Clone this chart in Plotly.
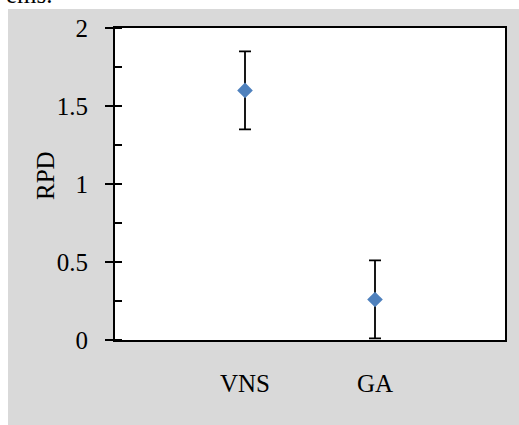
import plotly.graph_objects as go

categories = ["VNS", "GA"]
rpd_values = [1.60, 0.26]
rpd_errors = [0.25, 0.25]
y_tick_vals = [0, 0.5, 1, 1.5, 2]
y_tick_text = ["0", "0.5", "1", "1.5", "2"]

FONT = "Liberation Serif"
FS = 25
W, H = 519, 425
L, R, T, B = 115, 14, 28, 85
pw, ph = W - L - R, H - T - B

def px_x(x):
    return (x - L) / pw

def px_y(y):
    return (H - B - y) / ph

fig = go.Figure()
fig.add_trace(go.Scatter(
    x=[0, 1], y=rpd_values, mode="markers",
    marker=dict(symbol="diamond", size=12, color="#4f81bd"),
    error_y=dict(type="data", array=rpd_errors, visible=True,
                 color="black", thickness=1.8, width=6),
    showlegend=False, hoverinfo="skip",
))
fig.add_trace(go.Scatter(x=[None], y=[None], yaxis="y2", showlegend=False))

fig.update_layout(
    width=W, height=H,
    margin=dict(l=L, r=R, t=T, b=B, pad=0),
    paper_bgcolor="white", plot_bgcolor="rgba(0,0,0,0)",
    font=dict(family=FONT, size=FS, color="black"),
    xaxis=dict(range=[-1, 2], tickvals=[0, 1], ticktext=categories,
               showgrid=False, zeroline=False, ticks="",
               showline=True, linecolor="black", linewidth=2, mirror=True,
               tickfont=dict(family=FONT, size=FS), ticklabelstandoff=20),
    yaxis=dict(range=[0, 2], tickvals=y_tick_vals, ticktext=y_tick_text,
               showgrid=False, zeroline=False,
               ticks="outside", ticklen=8, tickwidth=2, tickcolor="black",
               minor=dict(dtick=0.25, tick0=0, ticks="inside", ticklen=7,
                          tickwidth=1.5, tickcolor="black"),
               showline=True, linecolor="black", linewidth=2, mirror=True,
               tickfont=dict(family=FONT, size=FS), ticklabelstandoff=12),
    yaxis2=dict(range=[0, 2], overlaying="y", tickvals=y_tick_vals,
                showticklabels=False, showgrid=False, zeroline=False,
                ticks="inside", ticklen=7, tickwidth=2, tickcolor="black",
                showline=False),
    shapes=[
        dict(type="rect", xref="paper", yref="paper", layer="below",
             x0=px_x(8), x1=px_x(W + 2), y0=px_y(H + 2), y1=px_y(9),
             fillcolor="#d9d9d9", line=dict(width=0)),
        dict(type="rect", xref="paper", yref="paper", layer="below",
             x0=0, x1=1, y0=0, y1=1, fillcolor="white", line=dict(width=0)),
    ],
    annotations=[
        dict(text="RPD", xref="paper", yref="paper", x=px_x(45), y=px_y(176),
             xanchor="center", yanchor="middle", textangle=-90, showarrow=False,
             font=dict(family=FONT, size=FS, color="black")),
        dict(text="ems.", xref="paper", yref="paper", x=px_x(55), y=px_y(-5),
             xanchor="right", yanchor="middle", showarrow=False,
             font=dict(family=FONT, size=FS, color="black")),
    ],
)

fig.write_html("out.html", config={"displayModeBar": False},
               post_script="document.body.style.margin='0';")
